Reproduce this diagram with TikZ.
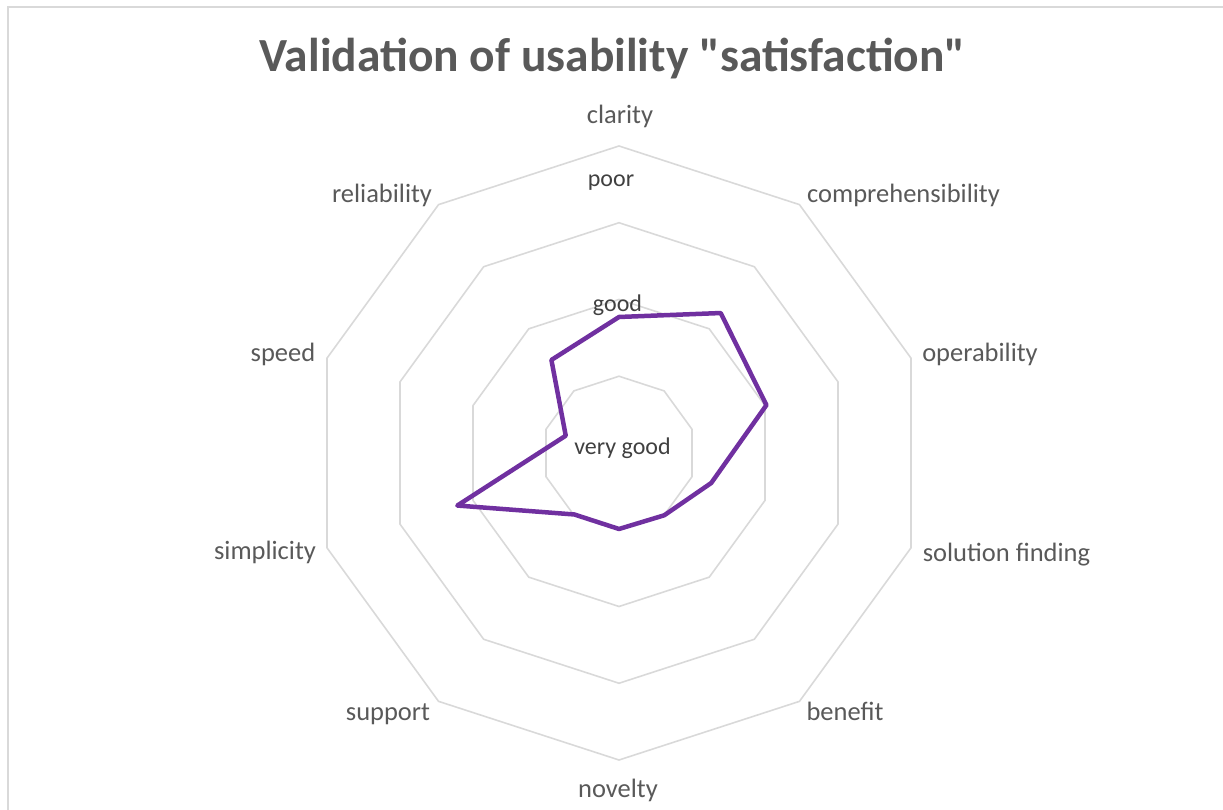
\documentclass[tikz,border=0pt]{standalone}
\usepackage{fontspec}
\setmainfont{Carlito}
\newfontfamily\plaincarlito{Carlito}
\usetikzlibrary{calc}
\definecolor{txtgray}{HTML}{595959}
\definecolor{tickgray}{HTML}{404040}
\definecolor{gridgray}{HTML}{D9D9D9}
\definecolor{series}{HTML}{7030A0}
\tikzset{
  axislabel/.style={anchor=base, text=txtgray, font=\plaincarlito\fontsize{26.5}{28}\selectfont, inner sep=0pt},
  ticklabel/.style={anchor=base, text=tickgray, font=\plaincarlito\fontsize{24}{26}\selectfont, inner sep=0pt},
  titlelabel/.style={anchor=base, text=txtgray, font=\plaincarlito\fontsize{47.5}{50}\selectfont\bfseries, inner sep=0pt},
  gridline/.style={draw=gridgray, line width=1.6pt},
  dataline/.style={draw=series, line width=4.5pt, line join=round},
  frameline/.style={draw=gridgray, line width=2pt}
}
\begin{document}
\begin{tikzpicture}[x=1pt,y=1pt]
\useasboundingbox (0,0) rectangle (1223,810);
\draw[frameline] (8,0) -- (8,803) -- (1223,803);
\coordinate (C) at (619,357);
% grid rings
\foreach \r in {76.75,153.5,230.25,307}{
  \draw[gridline] ($(C)+(90:\r)$)
    \foreach \i in {1,...,9}{ -- ($(C)+(90-36*\i:\r)$) } -- cycle;
}
% data
\coordinate (d0) at ($(C)+(90:136)$);
\coordinate (d1) at ($(C)+(54:173)$);
\coordinate (d2) at ($(C)+(18:155)$);
\coordinate (d3) at ($(C)+(-18:97)$);
\coordinate (d4) at ($(C)+(-54:77)$);
\coordinate (d5) at ($(C)+(-90:76)$);
\coordinate (d6) at ($(C)+(-126:76)$);
\coordinate (d7) at ($(C)+(-162:170)$);
\coordinate (d8) at ($(C)+(162:56)$);
\coordinate (d9) at ($(C)+(126:115)$);
\draw[dataline] (d0) -- (d1) -- (d2) -- (d3) -- (d4) -- (d5) -- (d6) -- (d7) -- (d8) -- (d9) -- cycle;
% title
\node[titlelabel] (title) at (612.5,738) {Validation of usability "satisfaction"};
% axis labels
\node[axislabel] (l0) at (620,686) {clarity};
\node[axislabel] (l1) at (903.5,607) {comprehensibility};
\node[axislabel] (l2) at (980,448) {operability};
\node[axislabel] (l3) at (1006.5,248) {solution finding};
\node[axislabel] (l4) at (845,89) {benefit};
\node[axislabel] (l5) at (618,12) {novelty};
\node[axislabel] (l6) at (388,89) {support};
\node[axislabel] (l7) at (265,250) {simplicity};
\node[axislabel] (l8) at (283,448) {speed};
\node[axislabel] (l9) at (382,607) {reliability};
% tick labels
\node[ticklabel] (t1) at (611,623) {poor};
\node[ticklabel] (t2) at (617.5,498) {good};
\node[ticklabel] (t3) at (622.5,355) {very good};
\end{tikzpicture}
\end{document}
